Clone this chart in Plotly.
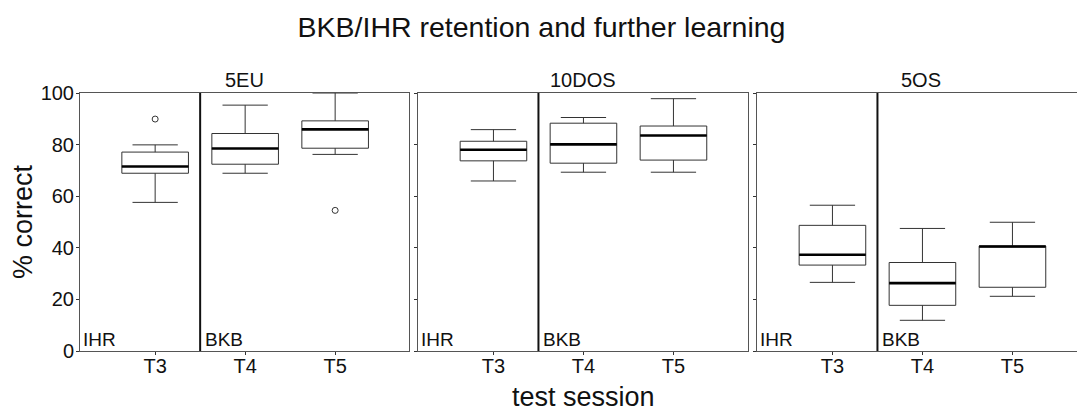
import plotly.graph_objects as go

# data (percent correct)
sessions = ["T3", "T4", "T5"]
groups = ["5EU", "10DOS", "5OS"]

q1 = {"5EU": [68.9, 72.4, 78.6], "10DOS": [73.7, 72.8, 74.0], "5OS": [33.3, 17.7, 24.7]}
median = {"5EU": [71.5, 78.5, 85.9], "10DOS": [78.0, 80.1, 83.5], "5OS": [37.3, 26.3, 40.5]}
q3 = {"5EU": [77.1, 84.3, 89.2], "10DOS": [81.3, 88.3, 87.2], "5OS": [48.7, 34.3, 40.7]}
lower = {"5EU": [57.6, 68.9, 76.2], "10DOS": [65.9, 69.3, 69.3], "5OS": [26.6, 11.9, 21.2]}
upper = {"5EU": [79.9, 95.3, 100.0], "10DOS": [85.8, 90.5, 97.8], "5OS": [56.5, 47.5, 49.9]}
outlier_session = {"5EU": ["T3", "T5"], "10DOS": [], "5OS": []}
outlier_value = {"5EU": [89.9, 54.5], "10DOS": [], "5OS": []}

FONT = "Liberation Sans"
pos = [1, 2, 3]
box_w = 0.74

# the page body adds an 8px offset, so the figure is 8px smaller
W, H = 1077, 404
L = 72
doms = [[0.0, 329.3 / 1005], [338.3 / 1005, 668.3 / 1005], [677.3 / 1005, 1.0]]
left = 0.165
px_per_unit = 90.0

fig = go.Figure()
layout = {}
for i, g in enumerate(groups):
    n = "" if i == 0 else str(i + 1)
    xa, ya = "x" + n, "y" + n

    fig.add_trace(go.Box(
        x=pos, q1=q1[g], median=median[g], q3=q3[g],
        lowerfence=lower[g], upperfence=upper[g],
        width=box_w, whiskerwidth=0.68, boxpoints=False,
        fillcolor="white", line=dict(color="#333333", width=1),
        xaxis=xa, yaxis=ya, showlegend=False, hoverinfo="skip"))

    mx, my = [], []
    for p, m in zip(pos, median[g]):
        mx += [p - box_w / 2, p + box_w / 2, None]
        my += [m, m, None]
    fig.add_trace(go.Scatter(x=mx, y=my, mode="lines",
                             line=dict(color="black", width=2.6),
                             xaxis=xa, yaxis=ya, showlegend=False, hoverinfo="skip"))

    if outlier_value[g]:
        fig.add_trace(go.Scatter(
            x=[pos[sessions.index(s)] for s in outlier_session[g]], y=outlier_value[g],
            mode="markers",
            marker=dict(symbol="circle-open", size=6, color="#333333", line=dict(width=1)),
            xaxis=xa, yaxis=ya, showlegend=False, hoverinfo="skip"))

    width_px = (doms[i][1] - doms[i][0]) * (W - L)
    layout["xaxis" + n] = dict(
        domain=doms[i], anchor=ya, range=[left, left + width_px / px_per_unit],
        tickvals=pos, ticktext=sessions, ticks="outside", ticklen=3,
        tickcolor="#333333", showline=True, linecolor="#555555", linewidth=1,
        mirror=True, showgrid=False, zeroline=False, automargin=False,
        ticklabelstandoff=-6,
        tickfont=dict(family=FONT, size=20, color="#111111"))
    layout["yaxis" + n] = dict(
        domain=[0, 1], anchor=xa, range=[0, 100], tickvals=[0, 20, 40, 60, 80, 100],
        ticks="outside", ticklen=3, tickcolor="#333333", showline=True,
        linecolor="#555555", linewidth=1, mirror=(i < 2), showgrid=False,
        zeroline=False, showticklabels=(i == 0), automargin=False,
        ticklabelstandoff=-2,
        tickfont=dict(family=FONT, size=20, color="#111111"))

    # separator between IHR and BKB sessions
    sep = (pos[0] + pos[1]) / 2
    fig.add_shape(type="line", xref=xa, yref=ya + " domain", x0=sep, x1=sep, y0=0, y1=1,
                  line=dict(color="#111111", width=2))
    fig.add_annotation(text="IHR", xref=xa + " domain", yref=ya + " domain", x=0, y=0,
                       xanchor="left", yanchor="bottom", xshift=1, yshift=-1,
                       showarrow=False, font=dict(family=FONT, size=19, color="#111111"))
    fig.add_annotation(text="BKB", xref=xa, yref=ya + " domain", x=sep, y=0,
                       xanchor="left", yanchor="bottom", xshift=3, yshift=-1,
                       showarrow=False, font=dict(family=FONT, size=19, color="#111111"))
    fig.add_annotation(text=g, xref=xa + " domain", yref="paper", x=0.5, y=1,
                       xanchor="center", yanchor="bottom", yshift=0,
                       showarrow=False, font=dict(family=FONT, size=20, color="#111111"))

layout["yaxis"]["title"] = dict(text="% correct", font=dict(family=FONT, size=27, color="#111111"),
                                standoff=4)
layout["xaxis2"]["title"] = dict(text="test session", font=dict(family=FONT, size=27, color="#111111"),
                                 standoff=12)

fig.update_layout(
    **layout,
    width=W, height=H,
    margin=dict(l=L, r=0, t=85, b=61),
    paper_bgcolor="white", plot_bgcolor="white",
    title=dict(text="BKB/IHR retention and further learning", x=533.5 / W, xref="container",
               y=1 - 19 / H, yref="container", yanchor="middle",
               font=dict(family=FONT, size=28.5, color="#111111")),
)

fig.write_html("out.html")
